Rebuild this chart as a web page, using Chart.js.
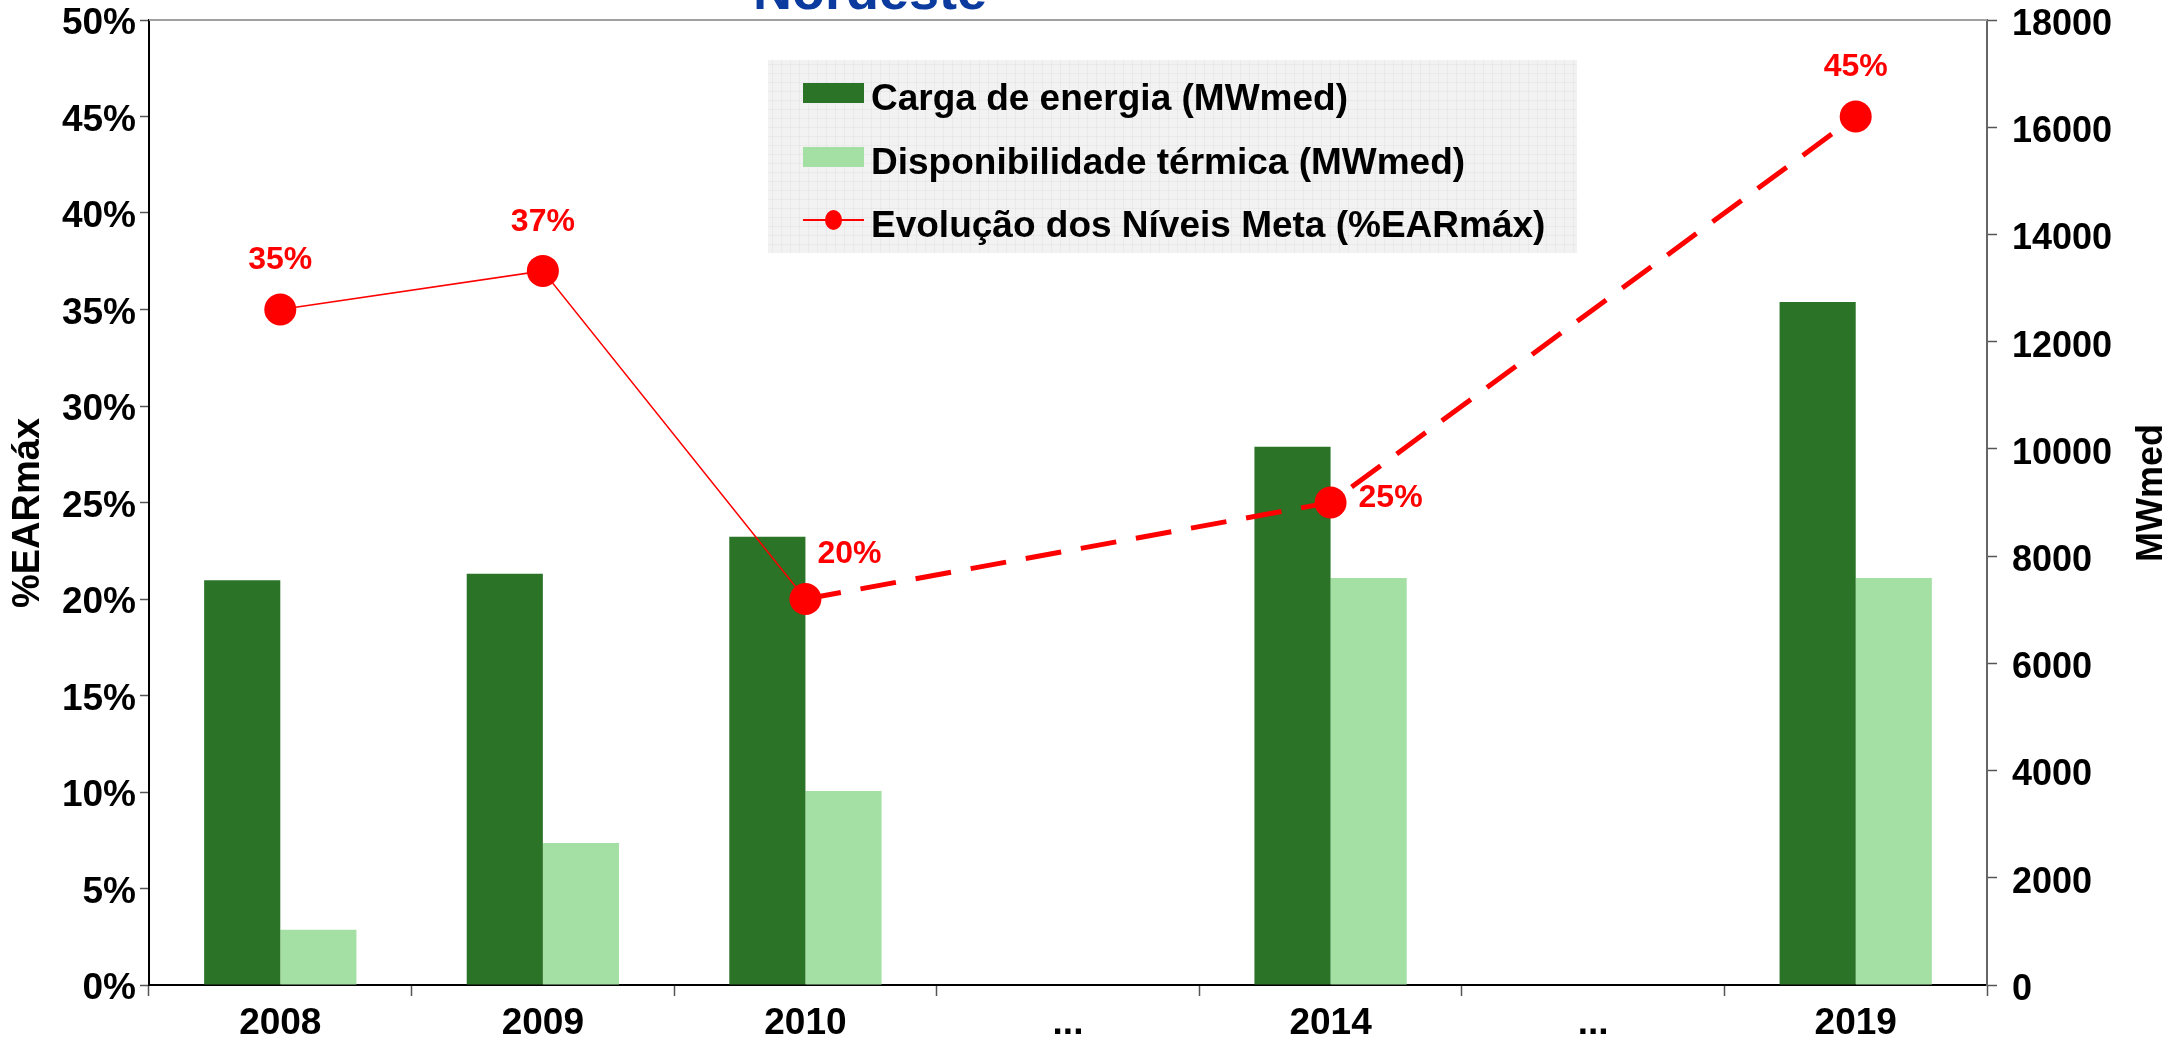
<!DOCTYPE html>
<html lang="pt-BR">
<head>
<meta charset="utf-8">
<title>Nordeste</title>
<script src="https://cdn.jsdelivr.net/npm/chart.js@4.4.1/dist/chart.umd.min.js"></script>
<style>
    html, body { margin: 0; padding: 0; background: #fff; overflow: hidden; }
    #grafico { display: block; }
</style>
</head>
<body>
<canvas id="grafico" width="2174" height="1044"></canvas>
<script>
    // Dados do grafico
    var anos = ['2008', '2009', '2010', '...', '2014', '...', '2019'];
    var cargaEnergia = [7550, 7670, 8360, null, 10040, null, 12740];
    var dispTermica = [1030, 2650, 3620, null, 7590, null, 7590];
    var niveisMeta = [35, 37, 20, null, 25, null, 45];

    // posicao dos rotulos dos niveis meta
    var posRotulo = ['acima', 'acima', 'direitaAcima', null, 'direita', null, 'acima'];

    var fonte = '"Liberation Sans", Arial, Helvetica, sans-serif';
    var verdeEscuro = '#2a7327';
    var verdeClaro = '#a4e0a4';
    var vermelho = '#ff0000';

    function semPadding(scale) {
        scale.paddingTop = 0;
        scale.paddingBottom = 0;
        scale.paddingLeft = 0;
        scale.paddingRight = 0;
    }

    var extras = {
        id: 'extras',
        afterDatasetsDraw: function (chart) {
            var ctx = chart.ctx;
            var area = chart.chartArea;
            ctx.save();

            // linha superior
            ctx.strokeStyle = '#a0a0a0';
            ctx.lineWidth = 2;
            ctx.beginPath();
            ctx.moveTo(area.left, area.top);
            ctx.lineTo(area.right, area.top);
            ctx.stroke();

            // rotulos dos pontos
            var meta = chart.getDatasetMeta(2);
            ctx.font = 'bold 32px ' + fonte;
            ctx.fillStyle = vermelho;
            ctx.textBaseline = 'middle';
            meta.data.forEach(function (pt, i) {
                if (niveisMeta[i] === null) return;
                var txt = niveisMeta[i] + '%';
                if (posRotulo[i] === 'acima') {
                    ctx.textAlign = 'center';
                    ctx.fillText(txt, pt.x, pt.y - 49);
                } else if (posRotulo[i] === 'direitaAcima') {
                    ctx.textAlign = 'left';
                    ctx.fillText(txt, pt.x + 12, pt.y - 45);
                } else {
                    ctx.textAlign = 'left';
                    ctx.fillText(txt, pt.x + 28, pt.y - 4);
                }
            });

            // titulos dos eixos
            ctx.fillStyle = '#000';
            ctx.textAlign = 'center';
            ctx.save();
            ctx.font = 'bold 38px ' + fonte;
            ctx.translate(29, 513);
            ctx.rotate(-Math.PI / 2);
            ctx.fillText('%EARmáx', 0, 0);
            ctx.restore();
            ctx.save();
            ctx.font = 'bold 36px ' + fonte;
            ctx.translate(2152, 493);
            ctx.rotate(-Math.PI / 2);
            ctx.fillText('MWmed', 0, 0);
            ctx.restore();

            // titulo (cortado no topo)
            ctx.fillStyle = '#0b3b9f';
            ctx.font = 'bold 54px ' + fonte;
            ctx.textBaseline = 'alphabetic';
            ctx.fillText('Nordeste', 870, 9);

            // legenda
            ctx.fillStyle = '#f2f2f2';
            ctx.fillRect(768, 60, 809, 193);
            ctx.strokeStyle = 'rgba(0,0,0,0.03)';
            ctx.lineWidth = 1;
            for (var gx = 772; gx < 1577; gx += 9) {
                ctx.beginPath(); ctx.moveTo(gx + 0.5, 60); ctx.lineTo(gx + 0.5, 253); ctx.stroke();
            }
            for (var gy = 64; gy < 253; gy += 9) {
                ctx.beginPath(); ctx.moveTo(768, gy + 0.5); ctx.lineTo(1577, gy + 0.5); ctx.stroke();
            }
            var ds = chart.data.datasets;
            var baselines = [110, 174, 237];
            ctx.textAlign = 'left';
            ctx.font = 'bold 37px ' + fonte;
            [0, 1, 2].forEach(function (k) {
                var d = ds[k];
                var by = baselines[k];
                if (d.type === 'line') {
                    ctx.strokeStyle = d.borderColor;
                    ctx.lineWidth = 2;
                    ctx.beginPath();
                    ctx.moveTo(803, by - 17);
                    ctx.lineTo(864, by - 17);
                    ctx.stroke();
                    ctx.fillStyle = d.pointBackgroundColor;
                    ctx.beginPath();
                    ctx.ellipse(833.5, by - 17, 8.5, 10, 0, 0, Math.PI * 2);
                    ctx.fill();
                } else {
                    ctx.fillStyle = d.backgroundColor;
                    ctx.fillRect(803, by - 27, 61, 20);
                }
                ctx.fillStyle = '#000';
                ctx.fillText(d.label, 871, by);
            });

            ctx.restore();
        }
    };

    var dados = {
        labels: anos,
        datasets: [{
            type: 'bar',
            label: 'Carga de energia (MWmed)',
            data: cargaEnergia,
            backgroundColor: verdeEscuro,
            yAxisID: 'y1',
            order: 1
        }, {
            type: 'bar',
            label: 'Disponibilidade térmica (MWmed)',
            data: dispTermica,
            backgroundColor: verdeClaro,
            yAxisID: 'y1',
            order: 2
        }, {
            type: 'line',
            label: 'Evolução dos Níveis Meta (%EARmáx)',
            data: niveisMeta,
            yAxisID: 'y',
            borderColor: vermelho,
            backgroundColor: vermelho,
            pointBackgroundColor: vermelho,
            pointBorderWidth: 0,
            pointRadius: 16,
            pointHoverRadius: 16,
            spanGaps: true,
            tension: 0,
            order: 0,
            segment: {
                borderWidth: function (c) { return c.p1DataIndex > 2 ? 5 : 1.5; },
                borderDash: function (c) { return c.p1DataIndex > 2 ? [36, 20] : []; }
            }
        }]
    };

    var config = {
        data: dados,
        plugins: [extras],
        options: {
            responsive: false,
            devicePixelRatio: 1,
            animation: false,
            layout: { padding: { top: 20, left: 0, right: 0, bottom: 0 } },
            plugins: {
                legend: { display: false },
                tooltip: { enabled: false }
            },
            datasets: {
                bar: { categoryPercentage: 0.58, barPercentage: 1.0 }
            },
            scales: {
                x: {
                    offset: true,
                    grid: {
                        offset: true,
                        drawOnChartArea: false,
                        drawTicks: true,
                        tickLength: 11,
                        tickColor: '#555',
                        tickWidth: 1.5
                    },
                    border: { display: true, color: '#000', width: 2 },
                    ticks: {
                        color: '#000',
                        padding: 6,
                        maxRotation: 0,
                        autoSkip: false,
                        font: { family: fonte, size: 37, weight: 'bold' }
                    },
                    afterFit: function (scale) { scale.height = 59; semPadding(scale); }
                },
                y: {
                    position: 'left',
                    min: 0,
                    max: 50,
                    grid: {
                        drawOnChartArea: false,
                        drawTicks: true,
                        tickLength: 9,
                        tickColor: '#555',
                        tickWidth: 1.5
                    },
                    border: { display: true, color: '#000', width: 2 },
                    ticks: {
                        stepSize: 5,
                        color: '#000',
                        padding: 4,
                        labelOffset: 4,
                        font: { family: fonte, size: 37, weight: 'bold' },
                        callback: function (v) { return v + '%'; }
                    },
                    afterFit: function (scale) { scale.width = 149; semPadding(scale); }
                },
                y1: {
                    position: 'right',
                    min: 0,
                    max: 18000,
                    grid: {
                        drawOnChartArea: false,
                        drawTicks: true,
                        tickLength: 10,
                        tickColor: '#555',
                        tickWidth: 1.5
                    },
                    border: { display: true, color: '#666', width: 2 },
                    ticks: {
                        stepSize: 2000,
                        color: '#000',
                        padding: 15,
                        labelOffset: 5,
                        font: { family: fonte, size: 36, weight: 'bold' },
                        callback: function (v) { return String(v); }
                    },
                    afterFit: function (scale) { scale.width = 187; semPadding(scale); }
                }
            }
        }
    };

    var grafico = new Chart(document.getElementById('grafico'), config);
</script>
</body>
</html>
